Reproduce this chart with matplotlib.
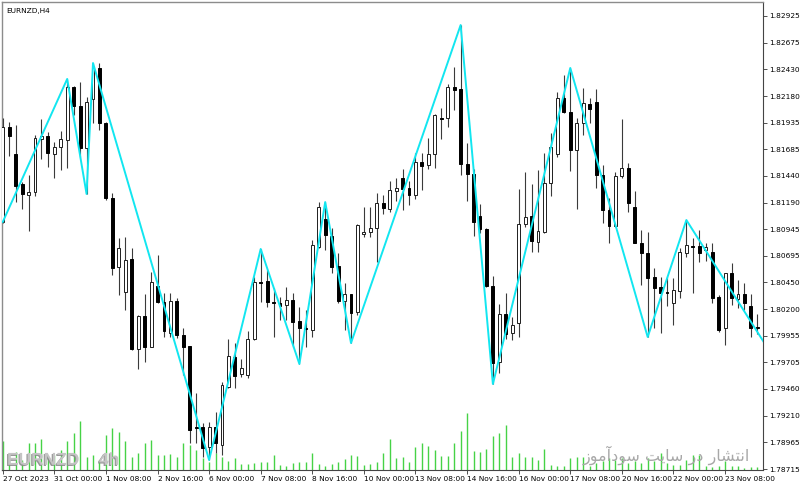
import matplotlib
matplotlib.use("Agg")
import matplotlib.pyplot as plt
import matplotlib.patheffects as pe
import numpy as np

# EURNZD H4 candles, 27 Oct 2023 -> 23 Nov 2023
symbol = "EURNZD,H4"

opens = [1.81010, 1.81893, 1.81642, 1.81364, 1.81261, 1.81289, 1.81782, 1.81810, 1.81642, 1.81707,
         1.81773, 1.82265, 1.82089, 1.81698, 1.82154, 1.82442, 1.81931, 1.81234, 1.80592, 1.80360,
         1.80667, 1.79830, 1.80137, 1.79849, 1.80416, 1.80267, 1.79979, 1.80276, 1.79960, 1.79858,
         1.79105, 1.79105, 1.78919, 1.79105, 1.78938, 1.79477, 1.79756, 1.79598, 1.79588, 1.79923,
         1.80453, 1.80462, 1.80267, 1.80258, 1.80239, 1.80286, 1.80090, 1.80025, 1.80007, 1.80778,
         1.81038, 1.80880, 1.80602, 1.80276, 1.80341, 1.80174, 1.80899, 1.80918, 1.80955, 1.81187,
         1.81131, 1.81299, 1.81419, 1.81327, 1.81261, 1.81568, 1.81540, 1.81642, 1.81977, 1.81977,
         1.82265, 1.82247, 1.81550, 1.81457, 1.81066, 1.80945, 1.80416, 1.79709, 1.80155, 1.79979,
         1.80072, 1.80992, 1.81066, 1.80825, 1.80918, 1.81373, 1.81642, 1.82163, 1.82033, 1.81680,
         1.81931, 1.82107, 1.82126, 1.81447, 1.81122, 1.80973, 1.81438, 1.81512, 1.81150, 1.80815,
         1.80722, 1.80499, 1.80406, 1.80360, 1.80258, 1.80369, 1.80722, 1.80787, 1.80787, 1.80750,
         1.80732, 1.80313, 1.80025, 1.80536, 1.80295, 1.80341, 1.80230, 1.80035]

highs = [1.81977, 1.81940, 1.81912, 1.81382, 1.81447, 1.81819, 1.81968, 1.81847, 1.81754, 1.81856,
         1.82340, 1.82274, 1.82312, 1.82172, 1.82488, 1.82488, 1.81940, 1.81280, 1.80862, 1.80871,
         1.80769, 1.80146, 1.80341, 1.80546, 1.80704, 1.80351, 1.80351, 1.80304, 1.80025, 1.79858,
         1.79421, 1.79142, 1.79152, 1.79245, 1.79523, 1.79923, 1.79886, 1.79737, 1.79997, 1.80499,
         1.80760, 1.80564, 1.80397, 1.80313, 1.80406, 1.80351, 1.80220, 1.80193, 1.80843, 1.81196,
         1.81196, 1.80955, 1.80722, 1.80444, 1.80341, 1.80990, 1.81150, 1.81150, 1.81280, 1.81261,
         1.81392, 1.81419, 1.81503, 1.81392, 1.81652, 1.81652, 1.81791, 1.82014, 1.82070, 1.82293,
         1.82451, 1.82841, 1.81745, 1.81503, 1.81178, 1.80955, 1.80509, 1.80248, 1.80351, 1.80128,
         1.81317, 1.81475, 1.81364, 1.81494, 1.81652, 1.81838, 1.82219, 1.82377, 1.82442, 1.81977,
         1.82256, 1.82163, 1.82247, 1.81540, 1.81234, 1.81475, 1.81968, 1.81559, 1.81299, 1.80936,
         1.80918, 1.80583, 1.80499, 1.80499, 1.80490, 1.80769, 1.81029, 1.80862, 1.80936, 1.80815,
         1.80815, 1.80332, 1.80536, 1.80629, 1.80471, 1.80444, 1.80341, 1.80155]

lows = [1.81001, 1.81624, 1.81196, 1.81131, 1.80927, 1.81252, 1.81596, 1.81522, 1.81419, 1.81494,
        1.81512, 1.82005, 1.81615, 1.81271, 1.81931, 1.81866, 1.81215, 1.80518, 1.80332, 1.80193,
        1.79821, 1.79644, 1.79709, 1.79849, 1.80258, 1.79942, 1.79942, 1.79932, 1.79588, 1.78956,
        1.78956, 1.78826, 1.78799, 1.78864, 1.78845, 1.79468, 1.79468, 1.79570, 1.79561, 1.79914,
        1.80267, 1.80220, 1.79942, 1.80100, 1.80100, 1.79849, 1.79691, 1.79849, 1.79942, 1.80769,
        1.80750, 1.80536, 1.80258, 1.80007, 1.79886, 1.80146, 1.80871, 1.80871, 1.80639, 1.81085,
        1.81103, 1.81206, 1.81122, 1.81168, 1.81224, 1.81308, 1.81503, 1.81512, 1.81782, 1.81893,
        1.82051, 1.81447, 1.81206, 1.80880, 1.80908, 1.80406, 1.79505, 1.79607, 1.79923, 1.79914,
        1.79942, 1.80964, 1.80732, 1.80732, 1.80908, 1.81252, 1.81615, 1.82024, 1.81484, 1.81131,
        1.81819, 1.81931, 1.81327, 1.81001, 1.80815, 1.80964, 1.81419, 1.81103, 1.80815, 1.80425,
        1.79942, 1.80025, 1.79979, 1.80230, 1.80053, 1.80304, 1.80685, 1.80351, 1.80639, 1.80648,
        1.80258, 1.79988, 1.79867, 1.80239, 1.80211, 1.80193, 1.79942, 1.79970]

closes = [1.81893, 1.81810, 1.81345, 1.81271, 1.81289, 1.81791, 1.81810, 1.81652, 1.81707, 1.81782,
          1.82265, 1.82089, 1.81698, 1.82126, 1.82442, 1.81931, 1.81234, 1.80583, 1.80769, 1.80657,
          1.79830, 1.80137, 1.79849, 1.80453, 1.80267, 1.79997, 1.80276, 1.79960, 1.79849, 1.79077,
          1.79096, 1.78910, 1.79105, 1.78956, 1.79496, 1.79765, 1.79579, 1.79654, 1.79923, 1.80453,
          1.80444, 1.80267, 1.80258, 1.80230, 1.80286, 1.80081, 1.80025, 1.80016, 1.80797, 1.81150,
          1.80890, 1.80592, 1.80276, 1.80341, 1.80165, 1.80983, 1.80918, 1.80955, 1.81187, 1.81141,
          1.81308, 1.81327, 1.81317, 1.81261, 1.81568, 1.81531, 1.81642, 1.82005, 1.81968, 1.82265,
          1.82237, 1.81550, 1.81457, 1.81010, 1.80945, 1.80416, 1.79700, 1.80155, 1.79970, 1.80053,
          1.80992, 1.81057, 1.80834, 1.80927, 1.81373, 1.81707, 1.82163, 1.82033, 1.81680, 1.81931,
          1.82116, 1.82061, 1.81447, 1.81122, 1.80973, 1.81438, 1.81512, 1.81187, 1.80815, 1.80722,
          1.80490, 1.80397, 1.80351, 1.80351, 1.80378, 1.80732, 1.80797, 1.80778, 1.80722, 1.80778,
          1.80304, 1.80007, 1.80536, 1.80304, 1.80341, 1.80258, 1.80025, 1.80025]

# tick volume per bar
volumes = [2900, 1500, 1800, 1000, 2700, 2700, 3100, 1300, 1500, 2000,
           2900, 3700, 4900, 1300, 1500, 1000, 3500, 4200, 3800, 2900,
           1300, 1700, 2700, 3000, 1500, 1500, 1600, 1300, 2700, 2500,
           2000, 1200, 800, 1700, 1300, 900, 1200, 600, 600, 700,
           800, 800, 1500, 500, 400, 700, 800, 800, 1700, 600,
           400, 600, 800, 1100, 1500, 1400, 500, 600, 800, 1700,
           3100, 1200, 1300, 800, 2300, 2700, 2400, 2000, 1400, 1400,
           2700, 3900, 5700, 1900, 1800, 2100, 3400, 3700, 4500, 1300,
           1700, 1300, 1300, 1000, 2100, 500, 400, 400, 1200, 1300,
           1300, 400, 700, 900, 1200, 1000, 1200, 700, 900, 700,
           1200, 900, 1700, 700, 500, 500, 1000, 1500, 1500, 400,
           300, 400, 900, 400, 400, 200, 300, 300]
vol_top = 46800  # volume value at the top of the panel

# ZigZag swing points (bar index, price)
zz_idx = [0, 10, 13, 14, 32, 40, 46, 50, 54, 71, 76, 88, 100, 106, 118]
zz_price = [1.81010, 1.82340, 1.81271, 1.82488, 1.78799, 1.80760, 1.79691, 1.81196,
            1.79886, 1.82841, 1.79505, 1.82442, 1.79942, 1.81029, 1.79895]

date_labels = ["27 Oct 2023", "31 Oct 00:00", "1 Nov 08:00", "2 Nov 16:00", "6 Nov 00:00",
               "7 Nov 08:00", "8 Nov 16:00", "10 Nov 00:00", "13 Nov 08:00", "14 Nov 16:00",
               "16 Nov 00:00", "17 Nov 08:00", "20 Nov 16:00", "22 Nov 00:00", "23 Nov 08:00"]
date_idx = list(range(0, 8 * len(date_labels), 8))

price_ticks = [1.82925, 1.82675, 1.82430, 1.82180, 1.81935, 1.81685, 1.81440, 1.81190, 1.80945,
               1.80695, 1.80450, 1.80200, 1.79955, 1.79705, 1.79460, 1.79210, 1.78965, 1.78715]

# watermark: "انتشار در سایت سودآموز", pre-shaped (presentation forms, visual order)
# because matplotlib does no arabic shaping / bidi
fa_watermark = "\ufeaf\ufeee\ufee3\ufe81\ufea9\ufeee\ufeb3 \ufe96\ufef3\ufe8e\ufeb3 \ufead\ufea9 \ufead\ufe8e\ufeb8\ufe98\ufee7\ufe8d"

plt.rcParams['font.family'] = ['DejaVu Sans']

fig = plt.figure(figsize=(8, 4.88), dpi=100)
ax = fig.add_axes([2 / 800, 18 / 488, 761 / 800, 468 / 488])

x = np.arange(len(opens))
o = np.array(opens)
h = np.array(highs)
l = np.array(lows)
c = np.array(closes)
v = np.array(volumes)
up = c >= o

# volumes along the bottom
ax.vlines(x, 0, v / vol_top, transform=ax.get_xaxis_transform(),
          color='#46d246', lw=1.0, zorder=1)

# candles
ax.vlines(x, l, h, color='#3a3a3a', lw=0.8, zorder=3)
ax.bar(x[up], (c - o)[up], bottom=o[up], width=0.45, color='white',
       edgecolor='#1e1e1e', lw=0.7, zorder=4)
ax.bar(x[~up], (o - c)[~up], bottom=c[~up], width=0.45, color='black',
       edgecolor='black', lw=0.7, zorder=4)

# zigzag
ax.plot(zz_idx, zz_price, color='#12e6f0', lw=1.4, zorder=5, solid_capstyle='round')

ax.set_xlim(-0.11, 117.88)
ax.set_ylim(1.78706, 1.83055)

ax.yaxis.tick_right()
ax.set_yticks(price_ticks)
ax.set_yticklabels([f"{p:.5f}" for p in price_ticks])
ax.tick_params(axis='y', direction='out', length=3, width=0.6, pad=1.5,
               labelsize=5.3, color='#333333')
ax.set_xticks(date_idx)
ax.set_xticklabels(date_labels, ha='left')
ax.tick_params(axis='x', direction='out', length=3, width=0.6, pad=1.5,
               labelsize=5.3, color='#333333')

for side in ['top', 'left']:
    ax.spines[side].set_color('#8c8c8c')
    ax.spines[side].set_linewidth(1.0)
for side in ['right', 'bottom']:
    ax.spines[side].set_color('#444444')
    ax.spines[side].set_linewidth(0.8)

ax.text(0.005, 0.988, symbol, transform=ax.transAxes, fontsize=5.3,
        ha='left', va='top', zorder=6)

# watermarks
wm_fx = [pe.withSimplePatchShadow(offset=(-0.8, -0.8), shadow_rgbFace='#8a8a8a', alpha=0.9)]
ax.text(0.0066, 0.011, "EURNZD", transform=ax.transAxes, fontsize=12.5, fontweight='bold',
        family=['Liberation Sans', 'DejaVu Sans'], color='#c4c4c4',
        ha='left', va='baseline', zorder=2, path_effects=wm_fx)
ax.text(0.1275, 0.011, "4h", transform=ax.transAxes, fontsize=12.5, fontweight='bold',
        family=['Liberation Sans', 'DejaVu Sans'], color='#c4c4c4',
        ha='left', va='baseline', zorder=2, path_effects=wm_fx)
ax.text(0.983, 0.019, fa_watermark, transform=ax.transAxes, fontsize=11.5,
        color='#a8a8a8', ha='right', va='baseline', zorder=2)

fig.savefig("out.png", dpi=100)
